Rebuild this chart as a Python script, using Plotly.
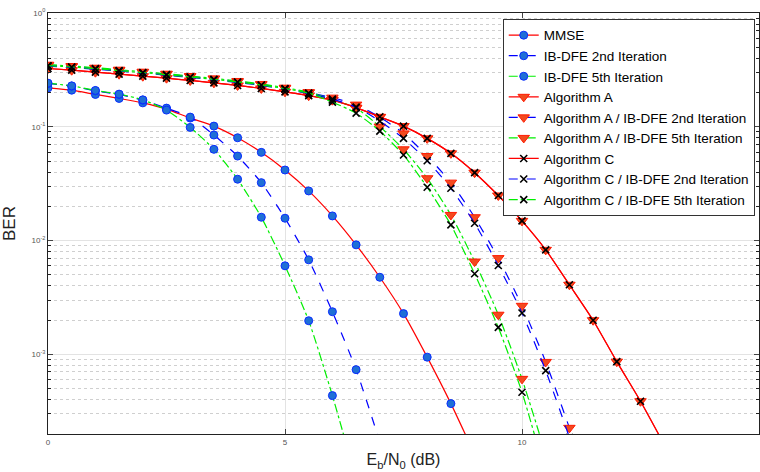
import plotly.graph_objects as go

# Eb/N0 grid (dB)
snr = [0, 0.5, 1, 1.5, 2, 2.5, 3, 3.5, 4, 4.5, 5, 5.5, 6, 6.5, 7, 7.5, 8, 8.5, 9,
       9.5, 10, 10.5, 11, 11.5, 12, 12.5, 13]

# BER values
mmse = [0.2198, 0.2098, 0.1924, 0.1775, 0.1623, 0.1430, 0.1192, 0.1014, 0.0801, 0.0596,
        0.0417, 0.0273, 0.01647, 0.00917, 0.00476, 0.00228, 0.000945, 0.000369, 0.000132]
ibdfe2 = [0.2402, 0.2275, 0.2069, 0.1924, 0.1714, 0.1459, 0.1216, 0.0846, 0.0553, 0.0323,
          0.01572, 0.00677, 0.00237, 0.000734, 0.00017]
ibdfe5 = [0.2416, 0.2289, 0.2086, 0.1936, 0.1725, 0.1401, 0.0988, 0.0634, 0.0346, 0.01604,
          0.0060, 0.001975, 0.000434, 0.0000796]
alg_a = [0.3253, 0.3144, 0.3019, 0.2900, 0.2784, 0.2674, 0.2553, 0.2432, 0.2308, 0.2172,
         0.2028, 0.1878, 0.1714, 0.1474, 0.1224, 0.1014, 0.0791, 0.0584, 0.0395, 0.0249,
         0.01489, 0.00829, 0.00409, 0.001995, 0.000863, 0.000387, 0.000161]
alg_a_ib2 = [0.3477, 0.3387, 0.3273, 0.3144, 0.3019, 0.2900, 0.2768, 0.2637, 0.2502, 0.2355,
             0.2185, 0.1995, 0.1804, 0.1566, 0.1216, 0.0875, 0.0553, 0.0323, 0.01604, 0.00701,
             0.00267, 0.000858, 0.000226]
alg_a_ib5 = [0.3512, 0.3421, 0.3306, 0.3176, 0.3050, 0.2929, 0.2796, 0.2663, 0.2527, 0.2379,
             0.2207, 0.2016, 0.1732, 0.1459, 0.1004, 0.0634, 0.0353, 0.0168, 0.00654, 0.00223,
             0.000609, 0.000132]
alg_c = [0.3253, 0.3144, 0.3019, 0.2900, 0.2784, 0.2674, 0.2553, 0.2432, 0.2308, 0.2172,
         0.2028, 0.1878, 0.1714, 0.1474, 0.1224, 0.1014, 0.0791, 0.0584, 0.0395, 0.0249,
         0.01489, 0.00829, 0.00409, 0.001995, 0.000863, 0.000387, 0.000161]
alg_c_ib2 = [0.3408, 0.3320, 0.3207, 0.3081, 0.2959, 0.2841, 0.2713, 0.2584, 0.2452, 0.2308,
             0.2141, 0.1956, 0.1750, 0.1489, 0.1122, 0.0791, 0.0503, 0.0288, 0.01421, 0.00604,
             0.00231, 0.000719, 0.000186]
alg_c_ib5 = [0.3442, 0.3353, 0.3240, 0.3112, 0.2989, 0.2870, 0.2740, 0.2610, 0.2477, 0.2331,
             0.2163, 0.1975, 0.1647, 0.1319, 0.0917, 0.0565, 0.0294, 0.01373, 0.00511, 0.001725,
             0.000464, 0.0000881]

names = ["MMSE", "IB-DFE 2nd Iteration", "IB-DFE 5th Iteration", "Algorithm A",
         "Algorithm A / IB-DFE 2nd Iteration", "Algorithm A / IB-DFE 5th Iteration",
         "Algorithm C", "Algorithm C / IB-DFE 2nd Iteration", "Algorithm C / IB-DFE 5th Iteration"]

y_tickvals = [1e-3, 1e-2, 1e-1, 1]
y_ticktext = ["10<sup>-3</sup>", "10<sup>-2</sup>", "10<sup>-1</sup>", "10<sup>0</sup>"]
y_minor = [2e-4, 3e-4, 4e-4, 5e-4, 6e-4, 7e-4, 8e-4, 9e-4,
           2e-3, 3e-3, 4e-3, 5e-3, 6e-3, 7e-3, 8e-3, 9e-3,
           2e-2, 3e-2, 4e-2, 5e-2, 6e-2, 7e-2, 8e-2, 9e-2,
           0.2, 0.3, 0.4, 0.5, 0.6, 0.7, 0.8, 0.9]
x_tickvals = [0, 5, 10, 15]

RED, BLUE, GREEN = "#ff0000", "#0000ff", "#00ee00"
circle = dict(symbol="circle", size=8, color="#1f6fd6", line=dict(color="#0a2cff", width=1))
tri = dict(symbol="triangle-down", size=10, color="#f24a1f", line=dict(color="#ff1a00", width=1))
cross = dict(symbol="x-thin", size=7, color="black", line=dict(color="black", width=1.6))

series = [
    (mmse, RED, "solid", circle),
    (ibdfe2, BLUE, "dash", circle),
    (ibdfe5, GREEN, "dashdot", circle),
    (alg_a, RED, "solid", tri),
    (alg_a_ib2, BLUE, "dash", tri),
    (alg_a_ib5, GREEN, "dashdot", tri),
    (alg_c, RED, "solid", cross),
    (alg_c_ib2, BLUE, "dash", cross),
    (alg_c_ib5, GREEN, "dashdot", cross),
]

fig = go.Figure()
for (vals, col, dash, mk), name in zip(series, names):
    fig.add_trace(go.Scatter(
        x=snr[:len(vals)], y=vals, name=name, mode="lines+markers",
        line=dict(color=col, width=1.2, dash=dash, shape="spline", smoothing=0.6),
        marker=mk,
    ))

fnt = "Liberation Sans, Arial, Helvetica, sans-serif"
fig.update_layout(
    width=760, height=472,
    margin=dict(l=48, r=1, t=13, b=38),
    paper_bgcolor="white", plot_bgcolor="white",
    font=dict(family=fnt, color="#222"),
    showlegend=True,
    legend=dict(x=0.994, y=0.986, xanchor="right", yanchor="top",
                bgcolor="white", bordercolor="#333", borderwidth=1,
                font=dict(size=13.5, family=fnt, color="black"),
                itemwidth=30, tracegroupgap=0),
    xaxis=dict(range=[0, 15], tickvals=x_tickvals, ticks="inside", ticklen=5,
               tickfont=dict(size=8, color="#555"),
               showline=True, linecolor="#222", linewidth=1, mirror="ticks",
               showgrid=True, gridcolor="#e3e3e3", gridwidth=1.2, zeroline=False,
               title=dict(text="E<sub>b</sub>/N<sub>0</sub> (dB)", font=dict(size=16, color="#222"),
                          standoff=8)),
    yaxis=dict(type="log", range=[-3.7, 0], tickvals=y_tickvals, ticktext=y_ticktext,
               ticks="inside", ticklen=5, tickfont=dict(size=8, color="#555"),
               showline=True, linecolor="#222", linewidth=1, mirror="ticks",
               showgrid=True, gridcolor="#e3e3e3", gridwidth=1.2, zeroline=False,
               minor=dict(showgrid=True, gridcolor="#cfcfcf", griddash="dot", gridwidth=1,
                          ticks="inside", ticklen=3, tickcolor="#222", tickvals=y_minor),
               title=dict(text="BER", font=dict(size=17, color="#222"), standoff=14)),
)

fig.write_html("out.html")
